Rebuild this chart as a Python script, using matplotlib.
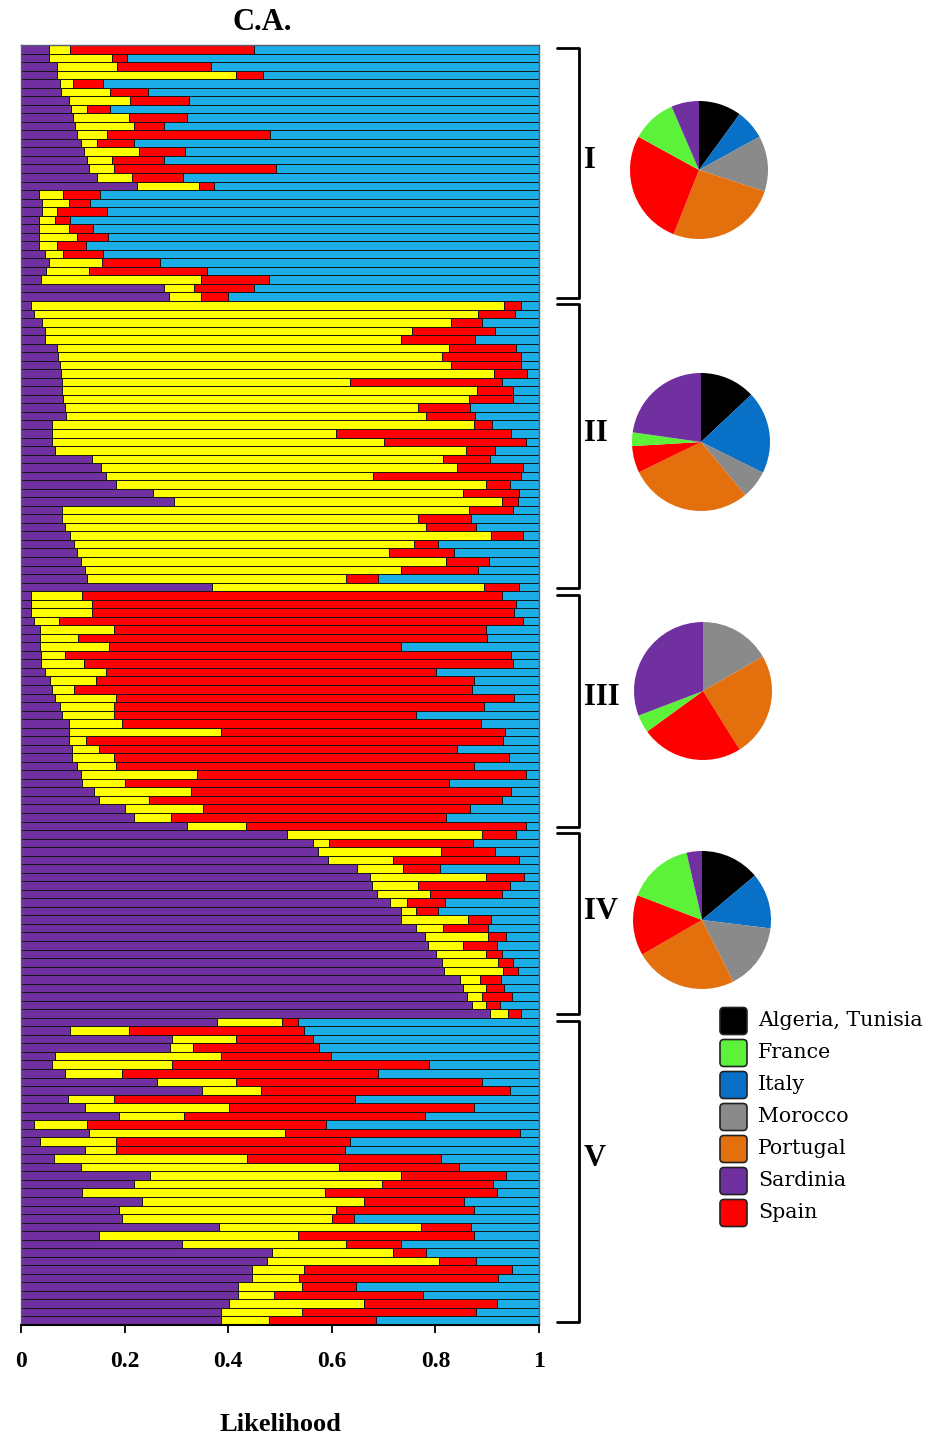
import matplotlib.pyplot as plt
import numpy as np
from matplotlib import transforms
from matplotlib.patches import FancyBboxPatch

# Cumulative membership per individual: purple | yellow | red | blue (blue runs to 1)
q_purple = [
    # I
    0.055, 0.055, 0.069, 0.069, 0.076, 0.077, 0.093, 0.097, 0.100, 0.105,
    0.109, 0.116, 0.121, 0.128, 0.131, 0.146, 0.224, 0.034, 0.040, 0.040,
    0.034, 0.034, 0.034, 0.034, 0.047, 0.054, 0.048, 0.038, 0.277, 0.286,
    # II
    0.020, 0.025, 0.040, 0.046, 0.046, 0.069, 0.072, 0.075, 0.077, 0.079,
    0.079, 0.082, 0.084, 0.086, 0.059, 0.059, 0.059, 0.065, 0.137, 0.154,
    0.164, 0.183, 0.255, 0.295, 0.079, 0.079, 0.084, 0.095, 0.103, 0.108,
    0.115, 0.123, 0.128, 0.368,
    # III
    0.020, 0.020, 0.020, 0.026, 0.036, 0.036, 0.036, 0.039, 0.039, 0.046,
    0.056, 0.059, 0.065, 0.075, 0.079, 0.092, 0.092, 0.092, 0.098, 0.098,
    0.108, 0.115, 0.118, 0.141, 0.151, 0.200, 0.219, 0.321,
    # IV
    0.514, 0.563, 0.573, 0.592, 0.648, 0.673, 0.677, 0.687, 0.713, 0.733,
    0.733, 0.762, 0.779, 0.785, 0.802, 0.813, 0.817, 0.847, 0.854, 0.861,
    0.870, 0.906,
    # V
    0.378, 0.095, 0.291, 0.287, 0.065, 0.060, 0.084, 0.262, 0.350, 0.090,
    0.123, 0.190, 0.026, 0.132, 0.036, 0.123, 0.064, 0.116, 0.249, 0.219,
    0.118, 0.234, 0.190, 0.195, 0.383, 0.151, 0.311, 0.484, 0.474, 0.445,
    0.445, 0.418, 0.418, 0.402, 0.387, 0.387,
]
q_yellow = [
    # I
    0.095, 0.176, 0.185, 0.415, 0.100, 0.171, 0.210, 0.128, 0.208, 0.219,
    0.166, 0.146, 0.228, 0.176, 0.180, 0.214, 0.343, 0.081, 0.093, 0.069,
    0.066, 0.093, 0.109, 0.070, 0.081, 0.157, 0.132, 0.348, 0.334, 0.348,
    # II
    0.933, 0.883, 0.831, 0.754, 0.734, 0.826, 0.812, 0.830, 0.913, 0.635,
    0.880, 0.864, 0.767, 0.782, 0.874, 0.609, 0.700, 0.860, 0.815, 0.841,
    0.680, 0.898, 0.854, 0.928, 0.865, 0.767, 0.782, 0.908, 0.759, 0.710,
    0.821, 0.733, 0.628, 0.893,
    # III
    0.117, 0.137, 0.137, 0.073, 0.180, 0.111, 0.169, 0.084, 0.121, 0.165,
    0.145, 0.103, 0.183, 0.180, 0.180, 0.195, 0.386, 0.126, 0.150, 0.180,
    0.184, 0.339, 0.200, 0.329, 0.247, 0.352, 0.289, 0.435,
    # IV
    0.889, 0.594, 0.810, 0.719, 0.738, 0.897, 0.767, 0.790, 0.745, 0.762,
    0.863, 0.814, 0.902, 0.854, 0.897, 0.921, 0.930, 0.887, 0.897, 0.889,
    0.897, 0.941,
    # V
    0.503, 0.208, 0.416, 0.332, 0.386, 0.291, 0.195, 0.416, 0.463, 0.180,
    0.402, 0.314, 0.128, 0.509, 0.184, 0.184, 0.437, 0.614, 0.734, 0.697,
    0.586, 0.662, 0.609, 0.601, 0.772, 0.535, 0.627, 0.719, 0.806, 0.546,
    0.537, 0.542, 0.488, 0.662, 0.542, 0.479,
]
q_red = [
    # I
    0.450, 0.205, 0.366, 0.468, 0.159, 0.245, 0.324, 0.172, 0.320, 0.277,
    0.481, 0.219, 0.317, 0.277, 0.493, 0.312, 0.372, 0.153, 0.134, 0.166,
    0.095, 0.139, 0.167, 0.126, 0.159, 0.269, 0.359, 0.479, 0.450, 0.400,
    # II
    0.965, 0.954, 0.889, 0.915, 0.876, 0.955, 0.965, 0.965, 0.976, 0.929,
    0.950, 0.950, 0.867, 0.877, 0.910, 0.946, 0.974, 0.916, 0.906, 0.969,
    0.965, 0.944, 0.961, 0.959, 0.949, 0.869, 0.878, 0.970, 0.805, 0.836,
    0.903, 0.882, 0.690, 0.962,
    # III
    0.928, 0.955, 0.952, 0.969, 0.898, 0.900, 0.733, 0.946, 0.949, 0.802,
    0.874, 0.870, 0.952, 0.893, 0.762, 0.888, 0.934, 0.930, 0.841, 0.942,
    0.874, 0.974, 0.826, 0.946, 0.929, 0.867, 0.821, 0.975,
    # IV
    0.955, 0.872, 0.916, 0.962, 0.808, 0.972, 0.944, 0.929, 0.819, 0.805,
    0.908, 0.902, 0.936, 0.919, 0.929, 0.950, 0.959, 0.926, 0.933, 0.948,
    0.925, 0.965,
    # V
    0.535, 0.546, 0.563, 0.576, 0.599, 0.787, 0.690, 0.890, 0.944, 0.645,
    0.874, 0.779, 0.588, 0.963, 0.635, 0.625, 0.810, 0.846, 0.937, 0.911,
    0.918, 0.856, 0.874, 0.643, 0.869, 0.874, 0.733, 0.782, 0.878, 0.948,
    0.921, 0.647, 0.777, 0.918, 0.878, 0.686,
]

group_labels = ['I', 'II', 'III', 'IV', 'V']
group_sizes = [30, 34, 28, 22, 36]

# Origin of each group (shares in %, same order as countries)
countries = ['Algeria, Tunisia', 'France', 'Italy', 'Morocco',
             'Portugal', 'Sardinia', 'Spain']
country_colors = ['#000000', '#5DF23A', '#0870C6', '#8A8A8A',
                  '#E3700C', '#7030A0', '#FF0000']
pie_I = [10.0, 10.5, 7.0, 13.0, 26.0, 6.5, 27.0]
pie_II = [13.0, 3.2, 19.4, 6.6, 28.9, 22.8, 6.3]
pie_III = [0.0, 4.2, 0.0, 16.7, 24.4, 30.8, 23.9]
pie_IV = [13.9, 15.6, 13.1, 15.6, 24.2, 3.6, 14.2]
pie_shares = [pie_I, pie_II, pie_III, pie_IV]
# wedges go clockwise from 12 o'clock in this order
pie_order = [0, 2, 3, 4, 6, 1, 5]

serif = 'Liberation Serif'
W, H = 932, 1433

fig = plt.figure(figsize=(W / 100, H / 100), dpi=100)
fig.patch.set_facecolor('white')

# --- stacked membership bars ---
ax = fig.add_axes([21 / W, 1 - 1325 / H, 518 / W, 1280 / H])
n = len(q_purple)
rows = np.arange(n)
p = np.array(q_purple)
yl = np.array(q_yellow)
rd = np.array(q_red)
segments = [
    (np.zeros(n), p, '#7030A0'),
    (p, yl - p, '#FFFF00'),
    (yl, rd - yl, '#FF0000'),
    (rd, 1 - rd, '#1BAEE6'),
]
for left, width, color in segments:
    ax.barh(rows, width, left=left, height=1.0, color=color,
            edgecolor='#141414', linewidth=0.7)

ax.set_xlim(0, 1)
ax.set_ylim(n - 0.5, -0.5)
ax.set_yticks([])
ax.set_xticks([0, 0.2, 0.4, 0.6, 0.8, 1])
ax.set_xticklabels(['0', '0.2', '0.4', '0.6', '0.8', '1'],
                   fontfamily=serif, fontweight='bold', fontsize=17)
ax.tick_params(axis='x', length=6, width=1.3, direction='out', pad=13)
ax.set_xlabel('Likelihood', fontfamily=serif, fontweight='bold',
              fontsize=19, labelpad=29)
for side in ['left', 'top', 'right']:
    ax.spines[side].set_color('#5a5a78')
    ax.spines[side].set_linewidth(1.0)
ax.spines['bottom'].set_color('black')
ax.spines['bottom'].set_linewidth(1.5)

fig.text(262 / W, 1 - 23 / H, 'C.A.', ha='center', va='center',
         fontfamily=serif, fontweight='bold', fontsize=22)

# --- group brackets ---
blend = transforms.blended_transform_factory(ax.transAxes, ax.transData)
start = 0
for label, size in zip(group_labels, group_sizes):
    top = start - 0.5 + 0.4
    bottom = start + size - 0.5 - 0.4
    ax.plot([1.035, 1.077, 1.077, 1.035], [top, top, bottom, bottom],
            transform=blend, clip_on=False, color='black', lw=2.0,
            solid_joinstyle='round', solid_capstyle='round')
    ax.text(1.087, start + size / 2 - 2.0, label, transform=blend,
            ha='left', va='center', fontfamily=serif, fontweight='bold',
            fontsize=22)
    start += size

# --- origin pies ---
pie_centers = [(699, 170), (701, 442), (703, 691), (702, 920)]
radius = 69
for (cx, cy), shares in zip(pie_centers, pie_shares):
    pax = fig.add_axes([(cx - radius) / W, 1 - (cy + radius) / H,
                        2 * radius / W, 2 * radius / H])
    pax.pie([shares[i] for i in pie_order],
            colors=[country_colors[i] for i in pie_order],
            startangle=90, counterclock=False,
            wedgeprops={'linewidth': 0})
    pax.set_xlim(-1, 1)
    pax.set_ylim(-1, 1)
    pax.set_aspect('equal')

# --- legend ---
over = fig.add_axes([0, 0, 1, 1], facecolor='none')
over.set_xlim(0, W)
over.set_ylim(H, 0)
over.axis('off')
for i, (name, color) in enumerate(zip(countries, country_colors)):
    yc = 1021 + i * 32.0
    over.add_patch(FancyBboxPatch((720, yc - 13.5), 27, 27,
                                  boxstyle='round,pad=0,rounding_size=4',
                                  facecolor=color, edgecolor='#222222',
                                  linewidth=1.2))
    over.text(758, yc, name, ha='left', va='center',
              fontfamily='DejaVu Serif', fontsize=14.8)

fig.savefig('out.png', dpi=100)
